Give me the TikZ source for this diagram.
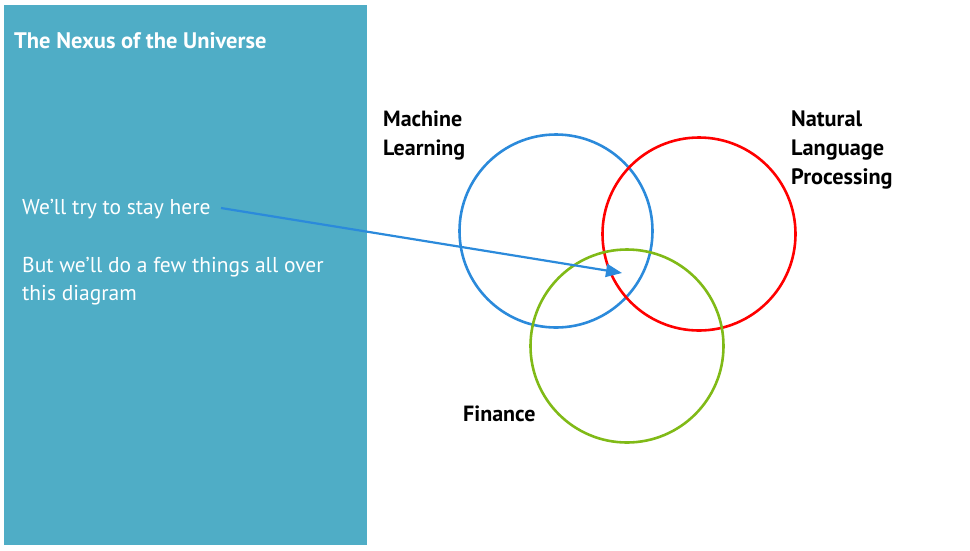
\documentclass[tikz,border=0pt]{standalone}
\usepackage{fontspec}
\setmainfont{PT Sans}
\usepackage{tikz}
\usetikzlibrary{arrows.meta, positioning, calc}
\usepackage{xcolor}
\definecolor{nxPanel}{HTML}{4FADC6}
\definecolor{nxBlue}{HTML}{2B8ADB}
\definecolor{nxRed}{HTML}{FF0000}
\definecolor{nxGreen}{HTML}{80BA17}
\tikzstyle{venn} = [%
  circle,
  draw,
  line width=2.6pt,
  minimum size=193pt,
  inner sep=0pt
]
\tikzstyle{vlabel} = [%
  anchor=base west,
  align=left,
  inner sep=0pt,
  text=black,
  font=\fontsize{22}{29}\selectfont\bfseries
]

\begin{document}
\begin{tikzpicture}[%
  x=1pt,y=-1pt,
  pointer/.style={%
    -{Triangle[length=16pt,width=13pt]},
    line width=2.2pt,
    draw=nxBlue
  },
  panel/.style={fill=nxPanel,draw=none},
  ptext/.style={%
    anchor=base west,
    align=left,
    inner sep=0pt,
    text=white,
    font=\fontsize{21.5}{28}\selectfont
  }
]
  \useasboundingbox (0,0) rectangle (970,550);

  % Panel
  \fill[panel] (4,5) rectangle (367,545);
  \node[ptext,font=\fontsize{22.5}{28}\selectfont\bfseries] (title) at (14,48) {The Nexus of the Universe};
  \node[ptext] (stay) at (22,214) {We’ll try to stay here};
  \node[ptext] (over) at (22,300) {But we’ll do a few things all over\\this diagram};

  % Circles
  \node[venn,draw=nxBlue] (ml) at (556,231) {};
  \node[venn,draw=nxRed] (nlp) at (699,234) {};
  \node[venn,draw=nxGreen] (fin) at (627,346) {};

  % Labels
  \node[vlabel] (mlL) at (383,155) {Machine\\Learning};
  \node[vlabel,font=\fontsize{22.3}{29}\selectfont\bfseries] (nlpL) at (791,184) {Natural\\Language\\Processing};
  \node[vlabel] (finL) at (463,421) {Finance};

  % Pointer
  \coordinate (here) at (622,273);
  \coordinate (from) at (221,208);
  \draw[pointer] (from) -- (here);

\end{tikzpicture}
\end{document}
